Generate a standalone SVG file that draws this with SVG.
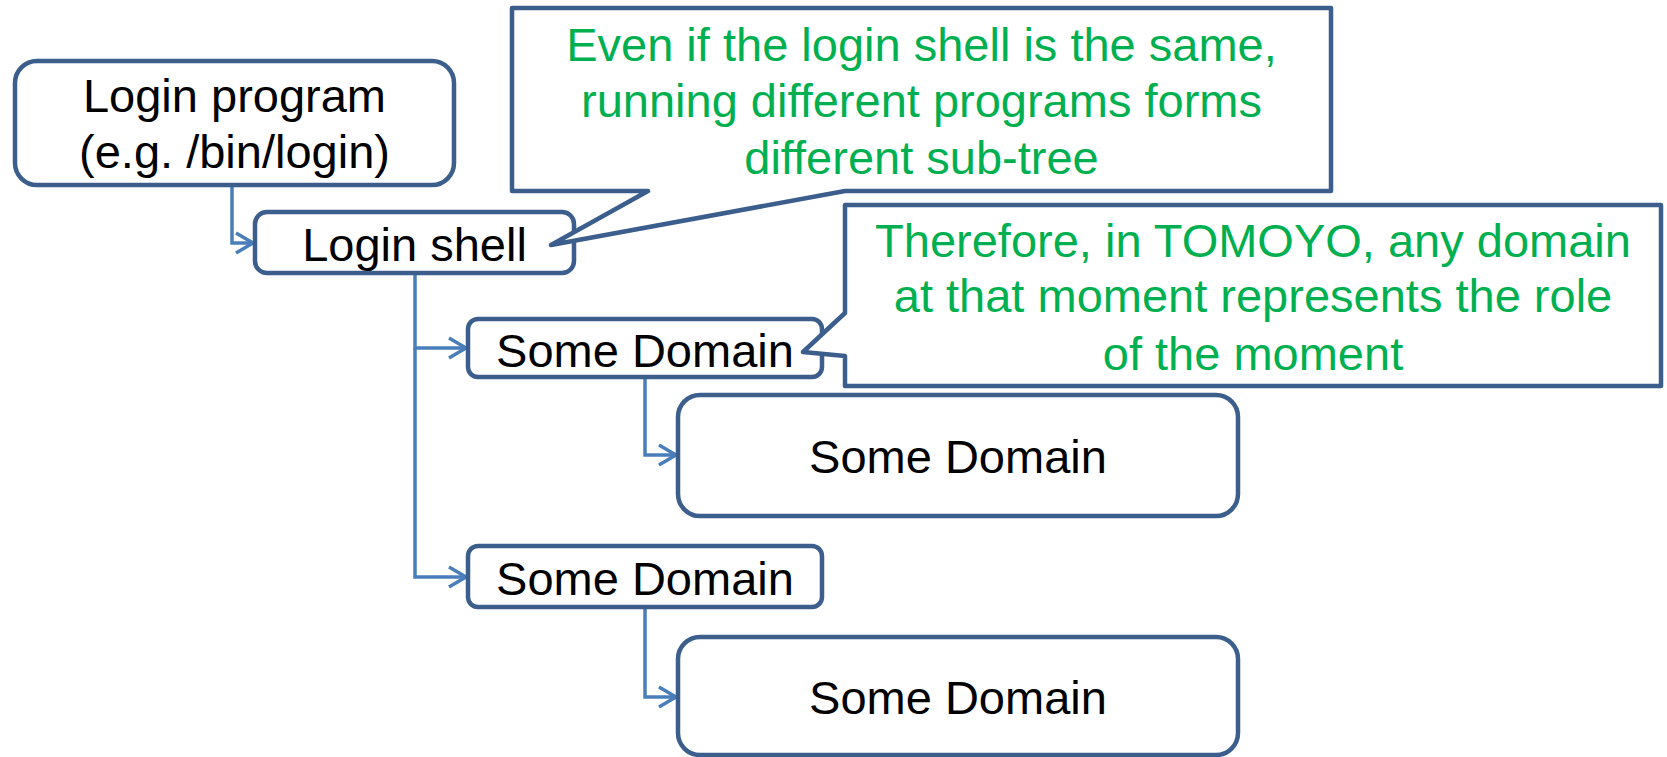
<svg xmlns="http://www.w3.org/2000/svg" width="1667" height="757" viewBox="0 0 1667 757">
<style>
.box{fill:#fff;stroke:#3B5E8C;stroke-width:4.5}
.conn{fill:none;stroke:#4A7EBB;stroke-width:3.5}
.callout{fill:#fff;stroke:#3B5E8C;stroke-width:4.5;stroke-linejoin:round}
.t{font-family:"Liberation Sans",Arial,sans-serif;font-size:47px;fill:#000;text-anchor:middle}
.g{font-family:"Liberation Sans",Arial,sans-serif;font-size:47px;fill:#00B050;text-anchor:middle}
</style>
<defs>
<marker id="arr" viewBox="0 0 22 24" refX="19" refY="12" markerWidth="22" markerHeight="24" markerUnits="userSpaceOnUse" orient="auto">
<path d="M2,2 L19,12 L2,22" fill="none" stroke="#4A7EBB" stroke-width="3.5"/>
</marker>
</defs>
<rect width="1667" height="757" fill="#fff"/>
<g id="connectors">
<path class="conn" d="M232,185 L232,243 L253,243" marker-end="url(#arr)"/>
<path class="conn" d="M415,274 L415,348 L466,348" marker-end="url(#arr)"/>
<path class="conn" d="M415,348 L415,577 L466,577" marker-end="url(#arr)"/>
<path class="conn" d="M645,377 L645,455 L676,455" marker-end="url(#arr)"/>
<path class="conn" d="M645,607 L645,697 L676,697" marker-end="url(#arr)"/>
</g>
<g id="login-program">
<rect class="box" x="15" y="61" width="439" height="124" rx="22"/>
<text class="t" x="234.5" y="112">Login program</text>
<text class="t" x="234.5" y="168">(e.g. /bin/login)</text>
</g>
<g id="login-shell">
<rect class="box" x="255" y="212" width="319" height="61" rx="12"/>
<text class="t" x="414.5" y="261">Login shell</text>
</g>
<g id="domain-1">
<rect class="box" x="468" y="319" width="354" height="58" rx="10"/>
<text class="t" x="645" y="367">Some Domain</text>
</g>
<g id="domain-1-1">
<rect class="box" x="678" y="395" width="560" height="121" rx="22"/>
<text class="t" x="958" y="473">Some Domain</text>
</g>
<g id="domain-2">
<rect class="box" x="468" y="546" width="354" height="61" rx="10"/>
<text class="t" x="645" y="595">Some Domain</text>
</g>
<g id="domain-2-1">
<rect class="box" x="678" y="637" width="560" height="118" rx="22"/>
<text class="t" x="958" y="714">Some Domain</text>
</g>
<g id="callout-1">
<path class="callout" d="M512,8 L1331,8 L1331,191 L845,191 L551,245 L648,191 L512,191 Z"/>
<text class="g" x="921.5" y="61">Even if the login shell is the same,</text>
<text class="g" x="921.5" y="117">running different programs forms</text>
<text class="g" x="921.5" y="174">different sub-tree</text>
</g>
<g id="callout-2">
<path class="callout" d="M845,205 L1661,205 L1661,386 L845,386 L845,356 L803,352 L845,313 Z"/>
<text class="g" x="1253" y="257">Therefore, in TOMOYO, any domain</text>
<text class="g" x="1253" y="312">at that moment represents the role</text>
<text class="g" x="1253" y="370">of the moment</text>
</g>
</svg>
